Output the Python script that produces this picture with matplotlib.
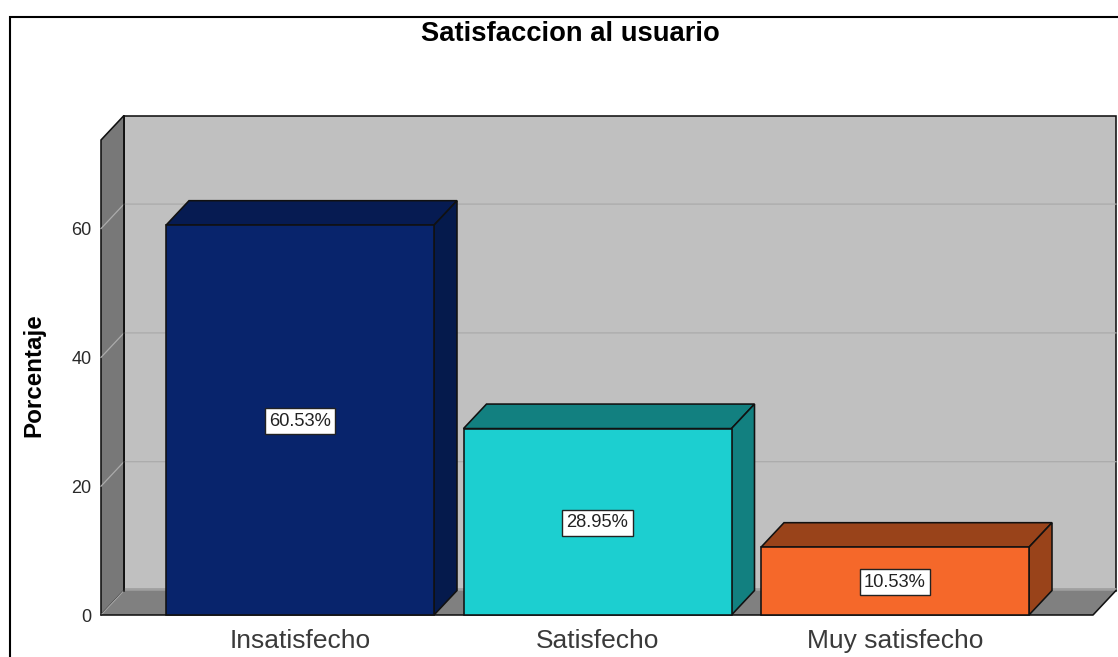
import matplotlib
matplotlib.use("Agg")
import matplotlib.pyplot as plt
from matplotlib.lines import Line2D
from matplotlib.patches import Polygon

title = "Satisfaccion al usuario"
ylabel = "Porcentaje"
categories = ["Insatisfecho", "Satisfecho", "Muy satisfecho"]
values = [60.53, 28.95, 10.53]
labels = ["60.53%", "28.95%", "10.53%"]
yticks = [0, 20, 40, 60]
front_colors = ["#08246C", "#1CCFD0", "#F5682A"]
side_colors = ["#051A4C", "#128080", "#99431A"]
top_colors = ["#061B52", "#128080", "#99431A"]

plt.rcParams["font.family"] = ["Liberation Sans", "DejaVu Sans"]

W, H = 1118, 657
fig = plt.figure(figsize=(W / 100, H / 100), dpi=100, facecolor="white")
L, R, T, B = 101, 1093, 140, 615
ax = fig.add_axes([L / W, 1 - B / H, (R - L) / W, (B - T) / H])
ax.patch.set_visible(False)
for s in ax.spines.values():
    s.set_visible(False)

px_x = 297.5
px_y = 6.44
x0 = 300
ax.set_xlim((L - x0) / px_x, (R - x0) / px_x)
ax.set_ylim(0, (B - T) / px_y)
xmin, xmax = ax.get_xlim()
ymax = ax.get_ylim()[1]
dx = 23 / px_x
dy = 24.5 / px_y
bar_w = 268 / px_x
EDGE = 1.15


def poly(pts, fc, z, ec="#111111", lw=EDGE):
    ax.add_patch(Polygon(pts, closed=True, fc=fc, ec=ec, lw=lw, zorder=z,
                         clip_on=False, joinstyle="miter"))


# back wall, side wall, floor
poly([(xmin + dx, dy), (xmax + dx, dy), (xmax + dx, ymax + dy), (xmin + dx, ymax + dy)], "#C0C0C0", 1)
poly([(xmin, 0), (xmin + dx, dy), (xmin + dx, ymax + dy), (xmin, ymax)], "#787878", 1.1)
poly([(xmin, 0), (xmax, 0), (xmax + dx, dy), (xmin + dx, dy)], "#808080", 1.2, ec="none", lw=0)
ax.plot([xmin + dx, xmax + dx], [dy + 0.3, dy + 0.3], color="#A0A0A0", lw=2, zorder=1.3, clip_on=False, solid_capstyle="butt")
ax.plot([xmin, xmin + dx], [0, dy], color="#A8A8A8", lw=0.8, zorder=1.3, clip_on=False)
ax.plot([xmin + dx, xmin + dx], [dy, ymax + dy], color="#111111", lw=EDGE, zorder=1.4, clip_on=False)
ax.plot([xmin, xmax, xmax + dx], [0, 0, dy], color="#111111", lw=EDGE, zorder=1.4, clip_on=False)

# gridlines
for t in yticks[1:]:
    ax.plot([xmin, xmin + dx, xmax + dx], [t, t + dy, t + dy], color="#ABABAB", lw=0.9,
            zorder=1.35, clip_on=False)

# bars
for i, v in enumerate(values):
    l, r = i - bar_w / 2, i + bar_w / 2
    poly([(l, v), (r, v), (r + dx, v + dy), (l + dx, v + dy)], top_colors[i], 2)
    poly([(r, 0), (r + dx, dy), (r + dx, v + dy), (r, v)], side_colors[i], 2)
    ax.bar(i, v, width=bar_w, color=front_colors[i], edgecolor="#111111", linewidth=EDGE,
           zorder=3, clip_on=False)
    ax.annotate(labels[i], xy=(i, v / 2), xytext=(0, -0.7), textcoords="offset points",
                ha="center", va="center", fontsize=13.2, color="#222222", zorder=4,
                bbox=dict(boxstyle="square,pad=0.24", fc="white", ec="#222222", lw=1.0))

ax.set_xticks(range(len(categories)), categories)
ax.set_yticks(yticks)
ax.tick_params(axis="x", length=0, pad=10, labelsize=19, labelcolor="#3A3A3A")
ax.tick_params(axis="y", length=0, pad=7, labelsize=13, labelcolor="#2A2A2A")
ax.set_ylabel(ylabel, fontsize=17.4, fontweight="bold", color="black")
ax.yaxis.set_label_coords((45 - L) / (R - L), 0.505)

fig.text(570 / W, 1 - 34 / H, title, ha="center", va="center", fontsize=19.7,
         fontweight="bold", color="black")

# outer frame
fig.add_artist(Line2D([10 / W, 10 / W, 1], [0, 1 - 16.5 / H, 1 - 16.5 / H], color="black", lw=1.5,
                      solid_joinstyle="miter"))

fig.savefig("out.png", dpi=100)
